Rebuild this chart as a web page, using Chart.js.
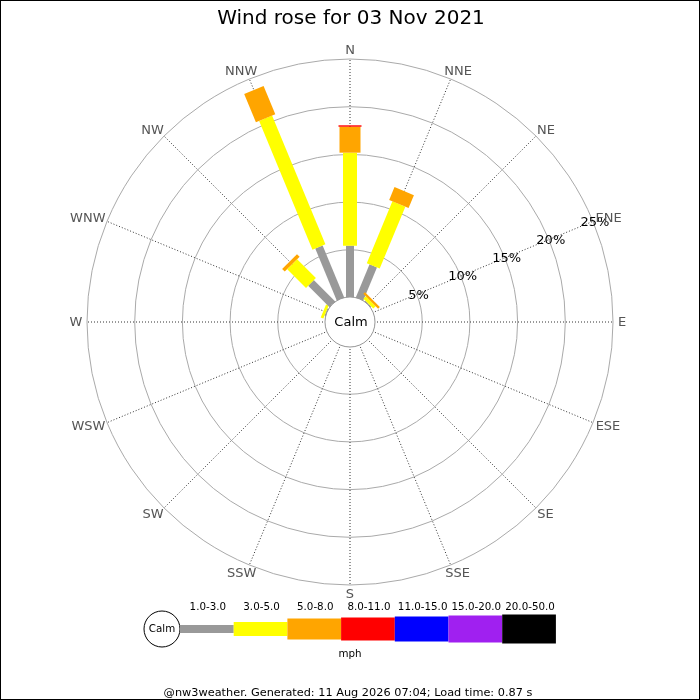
<!DOCTYPE html>
<html><head><meta charset="utf-8">
<script src="https://cdn.jsdelivr.net/npm/chart.js@4.4.1/dist/chart.umd.min.js"></script>
<style>html,body{margin:0;padding:0;background:#fff}canvas{display:block}</style>
</head><body>
<canvas id="c" width="700" height="700"></canvas>
<script>
const titleText = 'Wind rose for 03 Nov 2021';
const footerText = '@nw3weather. Generated: 11 Aug 2026 07:04; Load time: 0.87 s';
const directions = ['N','NNE','NE','ENE','E','ESE','SE','SSE','S','SSW','SW','WSW','W','WNW','NW','NNW'];
const speedBands = ['1.0-3.0','3.0-5.0','5.0-8.0','8.0-11.0','11.0-15.0','15.0-20.0','20.0-50.0'];
const speedUnit = 'mph';
const calmLabel = 'Calm';
const tickValues = [0, 5, 10, 15, 20, 25];
// percent of observations, per direction (N .. NNW)
const band1to3   = [5.43, 3.80, 0.15, 0, 0, 0, 0, 0, 0, 0, 0, 0, 0, 0.15, 3.22, 5.94];
const band3to5   = [9.75, 7.02, 0.35, 0, 0, 0, 0, 0, 0, 0, 0, 0, 0, 0.30, 2.78, 14.61];
const band5to8   = [2.72, 1.46, 0.25, 0, 0, 0, 0, 0, 0, 0, 0, 0, 0, 0, 0.39, 3.21];
const band8to11  = [0.15, 0, 0, 0, 0, 0, 0, 0, 0, 0, 0, 0, 0, 0, 0, 0];
const band11to15 = [0, 0, 0, 0, 0, 0, 0, 0, 0, 0, 0, 0, 0, 0, 0, 0];
const band15to20 = [0, 0, 0, 0, 0, 0, 0, 0, 0, 0, 0, 0, 0, 0, 0, 0];
const band20to50 = [0, 0, 0, 0, 0, 0, 0, 0, 0, 0, 0, 0, 0, 0, 0, 0];
const bandData = [band1to3, band3to5, band5to8, band8to11, band11to15, band15to20, band20to50];

// styles
const bandColors = ['#999999', '#ffff00', '#ffa500', '#ff0000', '#0000ff', '#a020f0', '#000000'];
const bandWidths = [8, 14, 21, 23, 25, 27, 29];
const FONT = '"DejaVu Sans", sans-serif';

const rosePlugin = {
  id: 'rose',
  beforeDraw(chart) {
    const ctx = chart.ctx;
    ctx.save();
    ctx.fillStyle = '#fff';
    ctx.fillRect(0, 0, chart.width, chart.height);
    ctx.restore();
  },
  afterDatasetsDraw(chart) {
    const ctx = chart.ctx;
    const s = chart.scales.r;
    const n = chart.data.labels.length;
    ctx.save();
    // stacked bars
    for (let i = 0; i < n; i++) {
      let cum = 0;
      const a = s.getIndexAngle(i) - Math.PI / 2;
      const nx = -Math.sin(a), ny = Math.cos(a);
      chart.data.datasets.forEach((ds, k) => {
        const v = ds.data[i];
        if (!v) return;
        const r0 = s.getDistanceFromCenterForValue(cum);
        cum += v;
        const r1 = s.getDistanceFromCenterForValue(cum);
        const p0 = s.getPointPosition(i, r0), p1 = s.getPointPosition(i, r1);
        const hw = ds.barWidth / 2;
        ctx.beginPath();
        ctx.moveTo(p0.x + nx * hw, p0.y + ny * hw);
        ctx.lineTo(p1.x + nx * hw, p1.y + ny * hw);
        ctx.lineTo(p1.x - nx * hw, p1.y - ny * hw);
        ctx.lineTo(p0.x - nx * hw, p0.y - ny * hw);
        ctx.closePath();
        ctx.fillStyle = ds.barColor;
        ctx.fill();
      });
    }
    // calm circle
    const rc = s.getDistanceFromCenterForValue(0) + 0.5;
    ctx.beginPath();
    ctx.arc(s.xCenter, s.yCenter, rc, 0, Math.PI * 2);
    ctx.fillStyle = '#fff';
    ctx.fill();
    ctx.lineWidth = 1;
    ctx.strokeStyle = '#999';
    ctx.stroke();
    ctx.fillStyle = '#000';
    ctx.font = '13px ' + FONT;
    ctx.textAlign = 'center';
    ctx.textBaseline = 'middle';
    ctx.fillText(calmLabel, s.xCenter + 1, s.yCenter + 0.5);

    // tick labels along ENE
    s.ticks.forEach(t => {
      if (t.value <= 0) return;
      const p = s.getPointPosition(3, s.getDistanceFromCenterForValue(t.value) + 1.5);
      ctx.fillText(t.value + '%', p.x + 0.5, p.y + 1.5);
    });

    // point labels
    const R = s.drawingArea;
    ctx.fillStyle = '#555';
    chart.data.labels.forEach((lab, i) => {
      const a = s.getIndexAngle(i);
      const w = ctx.measureText(lab).width;
      const sn = Math.sin(a);
      const p = s.getPointPosition(i, R + 9);
      const shift = sn * Math.max(0, w / 2 * 0.85 - 3.5 * Math.abs(sn));
      ctx.fillText(lab, p.x + shift, p.y + 0.5);
    });

    // title
    ctx.fillStyle = '#000';
    ctx.font = '20px ' + FONT;
    ctx.textBaseline = 'alphabetic';
    ctx.fillText(titleText, 351, 24);

    // legend
    const ly = 629, lcx = 162, lr = 18, segW = 53.7;
    ctx.beginPath();
    ctx.arc(lcx, ly, lr, 0, Math.PI * 2);
    ctx.fillStyle = '#fff';
    ctx.fill();
    ctx.strokeStyle = '#000';
    ctx.lineWidth = 1;
    ctx.stroke();
    ctx.fillStyle = '#000';
    ctx.font = '10.3px ' + FONT;
    ctx.textBaseline = 'middle';
    ctx.fillText(calmLabel, lcx, ly);
    chart.data.datasets.forEach((ds, k) => {
      const x0 = lcx + lr + k * segW;
      ctx.fillStyle = ds.barColor;
      ctx.fillRect(x0, ly - ds.barWidth / 2, segW, ds.barWidth);
      ctx.fillStyle = '#000';
      ctx.fillText(ds.label, x0 + segW / 2 + 1, 607);
    });
    ctx.fillText(speedUnit, 350, 654);

    // footer
    ctx.font = '11.3px ' + FONT;
    ctx.fillText(footerText, 348, 693);

    // frame
    ctx.strokeStyle = '#000';
    ctx.lineWidth = 1;
    ctx.strokeRect(0.5, 0.5, chart.width - 1, chart.height - 1);
    ctx.restore();
  }
};

new Chart(document.getElementById('c'), {
  type: 'radar',
  data: {
    labels: directions,
    datasets: speedBands.map((b, k) => ({
      label: b,
      data: bandData[k],
      barColor: bandColors[k],
      barWidth: bandWidths[k],
      showLine: false,
      fill: false,
      borderWidth: 0,
      pointRadius: 0,
      pointHoverRadius: 0
    }))
  },
  options: {
    responsive: false,
    animation: false,
    devicePixelRatio: 1,
    events: [],
    layout: { padding: { left: 87, right: 87, top: 59, bottom: 115 } },
    plugins: { legend: { display: false }, title: { display: false }, tooltip: { enabled: false } },
    scales: {
      r: {
        min: -2.57,
        max: 25,
        startAngle: 0,
        ticks: { display: false },
        pointLabels: { display: false },
        grid: { circular: true, color: '#aaaaaa', lineWidth: 1 },
        angleLines: { color: '#333333', lineWidth: 1, borderDash: [1, 2] },
        afterBuildTicks: (sc) => { sc.ticks = tickValues.map(v => ({ value: v })); }
      }
    }
  },
  plugins: [rosePlugin]
});
</script>
</body></html>
